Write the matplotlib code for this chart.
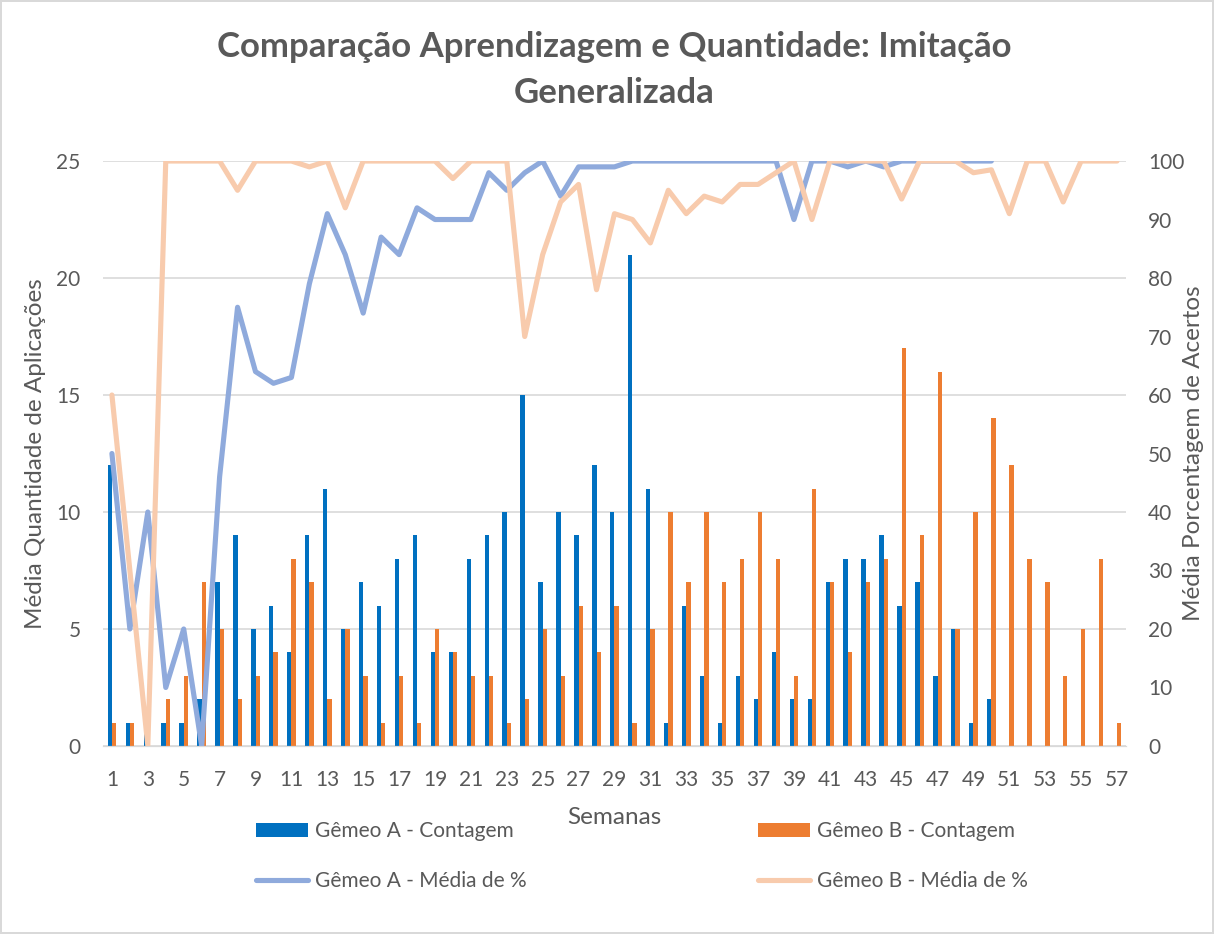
import numpy as np
import matplotlib
matplotlib.use("Agg")
import matplotlib.pyplot as plt

plt.rcParams['font.family'] = ['Lato', 'DejaVu Sans']

# data
semanas = np.arange(1, 58)

contagem_a = [12, 1, 1, 1, 1, 2, 7, 9, 5, 6, 4, 9, 11, 5, 7, 6, 8, 9, 4, 4,
              8, 9, 10, 15, 7, 10, 9, 12, 10, 21, 11, 1, 6, 3, 1, 3, 2, 4, 2, 2,
              7, 8, 8, 9, 6, 7, 3, 5, 1, 2]
contagem_b = [1, 1, 0, 2, 3, 7, 5, 2, 3, 4, 8, 7, 2, 5, 3, 1, 3, 1, 5, 4,
              3, 3, 1, 2, 5, 3, 6, 4, 6, 1, 5, 10, 7, 10, 7, 8, 10, 8, 3, 11,
              7, 4, 7, 8, 17, 9, 16, 5, 10, 14, 12, 8, 7, 3, 5, 8, 1]
media_a = [50, 20, 40, 10, 20, 0, 46, 75, 64, 62, 63, 79, 91, 84, 74, 87, 84, 92, 90, 90,
           90, 98, 95, 98, 100, 94, 99, 99, 99, 100, 100, 100, 100, 100, 100, 100, 100, 100, 90, 100,
           100, 99, 100, 99, 100, 100, 100, 100, 100, 100]
media_b = [60, 30, 0, 100, 100, 100, 100, 95, 100, 100, 100, 99, 100, 92, 100, 100, 100, 100, 100, 97,
           100, 100, 100, 70, 84, 93, 96, 78, 91, 90, 86, 95, 91, 94, 93, 96, 96, 98, 100, 90,
           100, 100, 100, 100, 93.5, 100, 100, 100, 98, 98.5, 91, 100, 100, 93, 100, 100, 100]

cinza = '#595959'
azul = '#0070C0'
laranja = '#ED7D31'
azul_claro = '#8FAADC'
laranja_claro = '#F8CBAD'

fig = plt.figure(figsize=(12.14, 9.34), dpi=100)
fig.patch.set_edgecolor('#d9d9d9')
fig.patch.set_linewidth(1.5)
ax = fig.add_axes([0.0848, 0.2013, 0.8427, 0.6263])
ax2 = ax.twinx()

n_a = len(contagem_a)
largura = 0.24
ax.bar(semanas[:n_a] - largura / 2, contagem_a, largura, color=azul, label='Gêmeo A - Contagem', zorder=2)
ax.bar(semanas + largura / 2, contagem_b, largura, color=laranja, label='Gêmeo B - Contagem', zorder=2)

estilo = dict(linewidth=3.7, solid_joinstyle='round', solid_capstyle='round')
ax2.plot(semanas[:len(media_a)], media_a, color=azul_claro, label='Gêmeo A - Média de %', **estilo)
ax2.plot(semanas, media_b, color=laranja_claro, label='Gêmeo B - Média de %', **estilo)

ax.set_xlim(0.5, 57.5)
ax.set_ylim(0, 25)
ax2.set_ylim(0, 100)
ax.set_yticks(range(0, 26, 5))
ax2.set_yticks(range(0, 101, 10))
ax.set_xticks(semanas[::2])

ax.grid(axis='y', color='#d9d9d9', linewidth=1.2, zorder=0)
ax.set_axisbelow(True)
for a in (ax, ax2):
    for lado in ('top', 'right', 'left'):
        a.spines[lado].set_visible(False)
    a.spines['bottom'].set_color('#d9d9d9')
    a.tick_params(length=0, colors=cinza, labelsize=15)
ax.tick_params(axis='y', pad=16)
ax2.tick_params(axis='y', pad=16)
ax.tick_params(axis='x', pad=17)

ax.set_xlabel('Semanas', fontsize=17.5, color=cinza)
ax.xaxis.set_label_coords(0.5, -0.105)
ax.set_ylabel('Média Quantidade de Aplicações', fontsize=17.5, color=cinza)
ax.yaxis.set_label_coords(-0.056, 0.5)
ax2.set_ylabel('Média Porcentagem de Acertos', fontsize=17.5, color=cinza)
ax2.yaxis.set_label_coords(1.056, 0.5)

fig.text(0.506, 0.925, 'Comparação Aprendizagem e Quantidade: Imitação\nGeneralizada',
         ha='center', va='center', fontsize=25, fontweight='bold', color=cinza, linespacing=1.52)

h1, l1 = ax.get_legend_handles_labels()
h2, l2 = ax2.get_legend_handles_labels()
fig.legend([h1[0], h2[0], h1[1], h2[1]], [l1[0], l2[0], l1[1], l2[1]],
           ncol=2, loc='upper left', bbox_to_anchor=(0.2109, 0.121), frameon=False,
           fontsize=15, labelcolor=cinza, handlelength=2.5, handleheight=0.66,
           handletextpad=0.34, columnspacing=11.1, labelspacing=1.45,
           borderpad=0, borderaxespad=0)

fig.savefig('out.png', dpi=100)
